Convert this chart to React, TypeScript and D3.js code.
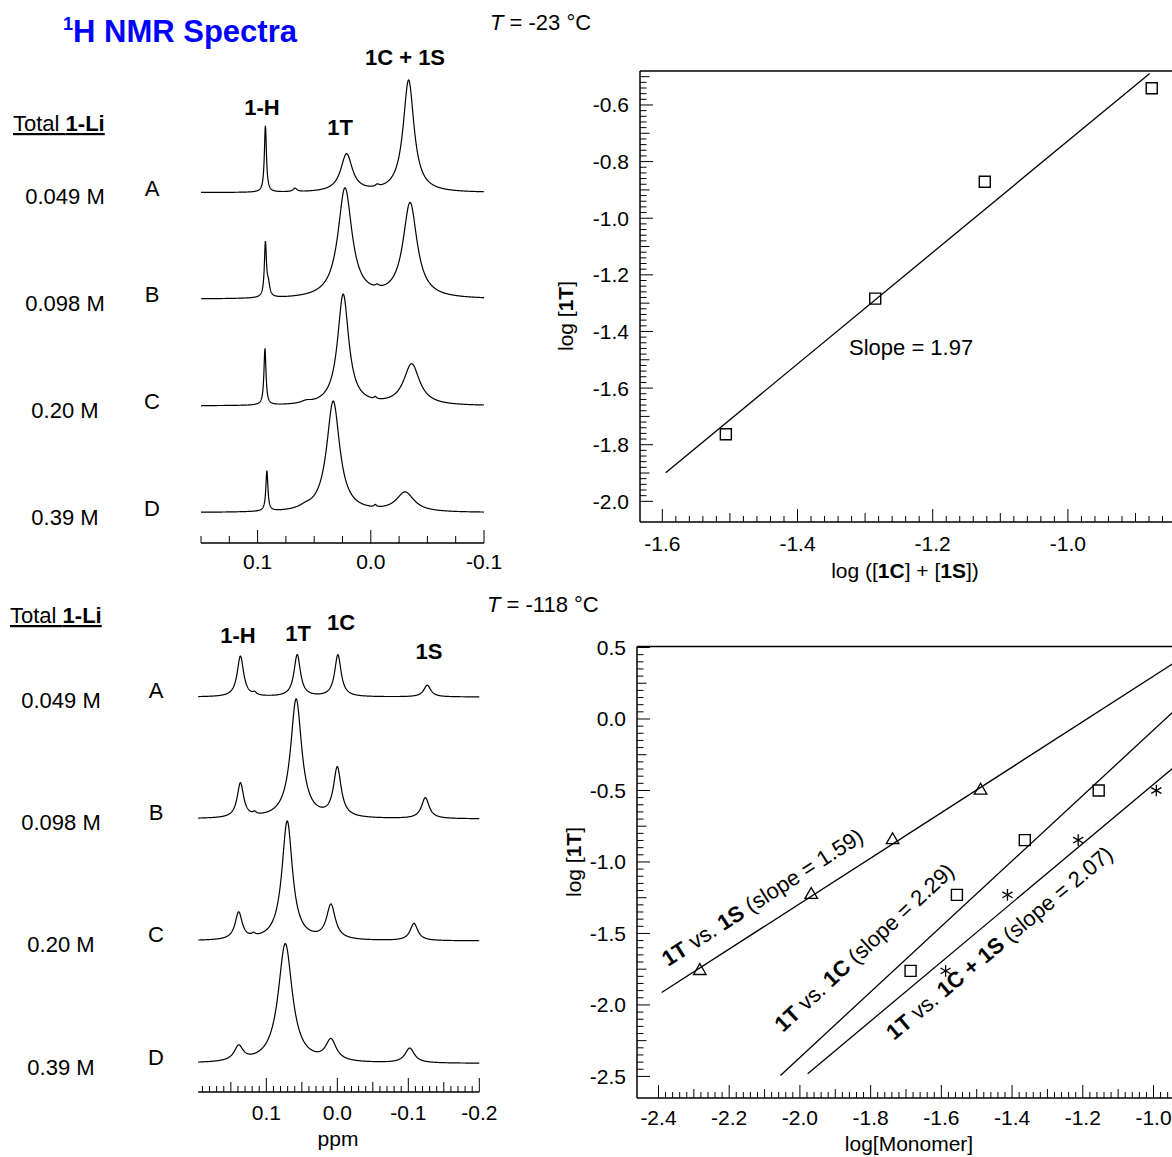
import React from 'react';
import * as d3 from 'd3';

const FONT = "'Liberation Sans', Arial, Helvetica, sans-serif";

// ---------------- Left: 1H NMR spectra ----------------
const concentrations = ['0.049 M', '0.098 M', '0.20 M', '0.39 M'];
const sampleLetters = ['A', 'B', 'C', 'D'];

// peaks: [chemical shift (ppm), height (a.u., 100 = tallest), half-width (ppm)]
const peaksWarmA = [[0.0931, 58, 0.0011], [0.067, 3, 0.002], [0.0214, 33, 0.0062], [-0.0057, 2, 0.002], [-0.0334, 98, 0.0058]];
const peaksWarmB = [[0.0931, 47, 0.0011], [0.0905, 10, 0.0015], [0.0228, 96, 0.0075], [-0.0057, 2, 0.002], [-0.0347, 83, 0.0075]];
const peaksWarmC = [[0.0935, 49, 0.0011], [0.057, 2, 0.005], [0.0244, 97, 0.006], [-0.004, 2, 0.0012], [-0.0361, 36, 0.0085]];
const peaksWarmD = [[0.0918, 35, 0.0011], [0.058, 2, 0.006], [0.0332, 97, 0.007], [-0.004, 2, 0.0012], [-0.0304, 17, 0.0095]];

const peaksColdA = [[0.1365, 33, 0.0055], [0.1165, 2, 0.003], [0.0565, 34, 0.0055], [-0.0008, 34, 0.0055], [-0.1267, 9.5, 0.006]];
const peaksColdB = [[0.1365, 28, 0.0055], [0.1165, 2, 0.003], [0.058, 97, 0.0095], [0.0, 40, 0.0065], [-0.124, 17, 0.0065]];
const peaksColdC = [[0.139, 22, 0.006], [0.118, 2, 0.003], [0.0706, 97, 0.009], [0.009, 28, 0.0075], [-0.108, 14, 0.0065]];
const peaksColdD = [[0.139, 12, 0.0075], [0.0733, 97, 0.012], [0.009, 17, 0.009], [-0.102, 12, 0.008]];

const warmPeakLabels = ['1-H', '1T', '1C + 1S'];
const coldPeakLabels = ['1-H', '1T', '1C', '1S'];

const warmTickValues = [0.1, 0.0, -0.1];
const warmTickLabels = ['0.1', '0.0', '-0.1'];
const coldTickValues = [0.1, 0.0, -0.1, -0.2];
const coldTickLabels = ['0.1', '0.0', '-0.1', '-0.2'];

// ---------------- Right top: T = -23 °C ----------------
const logMonomerWarm = [-1.506, -1.285, -1.123, -0.876];
const log1TWarm = [-1.763, -1.284, -0.871, -0.541];
const fitWarm = { slope: 1.97, intercept: 1.2432, x0: -1.595, x1: -0.879 };
const warmXTickValues = [-1.6, -1.4, -1.2, -1.0];
const warmXTickLabels = ['-1.6', '-1.4', '-1.2', '-1.0'];
const warmYTickValues = [-2.0, -1.8, -1.6, -1.4, -1.2, -1.0, -0.8, -0.6];
const warmYTickLabels = ['-2.0', '-1.8', '-1.6', '-1.4', '-1.2', '-1.0', '-0.8', '-0.6'];

// ---------------- Right bottom: T = -118 °C ----------------
const log1TCold = [-1.762, -1.23, -0.847, -0.5];
const log1S = [-2.283, -1.968, -1.738, -1.489];
const log1C = [-1.687, -1.556, -1.364, -1.155];
const log1CS = [-1.588, -1.413, -1.213, -0.992];
const fit1S = { slope: 1.59, intercept: 1.889, x0: -2.391, x1: -0.7 };
const fit1C = { slope: 2.29, intercept: 2.213, x0: -2.055, x1: -0.7 };
const fit1CS = { slope: 2.07, intercept: 1.613, x0: -1.978, x1: -0.7 };
const coldXTickValues = [-2.4, -2.2, -2.0, -1.8, -1.6, -1.4, -1.2, -1.0];
const coldXTickLabels = ['-2.4', '-2.2', '-2.0', '-1.8', '-1.6', '-1.4', '-1.2', '-1.0'];
const coldYTickValues = [-2.5, -2.0, -1.5, -1.0, -0.5, 0.0, 0.5];
const coldYTickLabels = ['-2.5', '-2.0', '-1.5', '-1.0', '-0.5', '0.0', '0.5'];

// ---------------- helpers ----------------
type Peak = number[];
function spectrumPath(peaks: Peak[], x: d3.ScaleLinear<number, number>, y: d3.ScaleLinear<number, number>) {
  const [a, b] = x.domain();
  const N = 1600;
  const pts: [number, number][] = d3.range(N + 1).map((i) => {
    const ppm = a + ((b - a) * i) / N;
    const v = d3.sum(peaks, (p) => p[1] / (1 + ((ppm - p[0]) / p[2]) ** 2));
    return [x(ppm), y(v)];
  });
  return d3.line()(pts) || '';
}

function approxKind(v: number, major: number, medium: number) {
  const r = (m: number) => Math.abs(v / m - Math.round(v / m)) < 1e-6;
  if (r(major)) return 2;
  if (medium > 0 && r(medium)) return 1;
  return 0;
}

const T = (props: any) => <text fontFamily={FONT} fill="#000" {...props} />;

export default function App() {
  // ---- left top spectra ----
  const xWarm = d3.scaleLinear().domain([0.15, -0.1]).range([201, 484]);
  const warmBase = [192.7, 299.3, 406, 512.7];
  const warmPeaks = [peaksWarmA, peaksWarmB, peaksWarmC, peaksWarmD];
  const warmAxisY = 543;
  const warmTicks = d3.range(0, 11).map((i) => 0.15 - i * 0.025);

  // ---- left bottom spectra ----
  const xCold = d3.scaleLinear().domain([0.196, -0.2]).range([198.2, 479.3]);
  const coldBase = [697, 819, 941, 1063.5];
  const coldPeaks = [peaksColdA, peaksColdB, peaksColdC, peaksColdD];
  const coldAxisY = 1092;
  const coldTicks = d3.range(0, 40).map((i) => 0.19 - i * 0.01);

  // ---- right top ----
  const xR1 = d3.scaleLinear().domain([-1.633, -0.75]).range([640, 640 + 0.883 * 676]);
  const yR1 = d3.scaleLinear().domain([-2.073, -0.48]).range([522, 71]);
  const r1XTicks = d3.range(0, 45).map((i) => -1.6 + i * 0.02);
  const r1YTicks = d3.range(0, 76).map((i) => -2.0 + i * 0.02).filter((v) => v <= -0.485);

  // ---- right bottom ----
  const xR2 = d3.scaleLinear().domain([-2.461, -0.6]).range([636.9, 636.9 + 1.861 * 353.6]);
  const yR2 = d3.scaleLinear().domain([-2.651, 0.507]).range([1098, 646.5]);
  const r2XTicks = d3.range(0, 95).map((i) => -2.4 + i * 0.02);
  const r2YTicks = d3.range(0, 61).map((i) => -2.5 + i * 0.05);

  const sq = d3.symbol().type(d3.symbolSquare).size(121)() || '';
  const tri = d3.symbol().type(d3.symbolTriangle).size(68)() || '';
  const star = d3.symbol().type(d3.symbolAsterisk).size(95)() || '';

  const fitLine = (f: any, x: any, y: any) =>
    d3.line()([[x(f.x0), y(f.slope * f.x0 + f.intercept)], [x(f.x1), y(f.slope * f.x1 + f.intercept)]]) || '';

  const pxSlope2 = (s: number) => (s * (yR2(0) - yR2(1))) / (xR2(1) - xR2(0));
  const ang = (s: number) => (-Math.atan(pxSlope2(s)) * 180) / Math.PI;

  return (
    <svg width={1172} height={1157} style={{ position: 'absolute', left: 0, top: 0, background: '#fff' }}>
      <defs>
        <clipPath id="clipR1"><rect x={640} y={71} width={600} height={451} /></clipPath>
        <clipPath id="clipR2"><rect x={637} y={646.5} width={600} height={451.5} /></clipPath>
      </defs>
      <rect x={0} y={0} width={1172} height={1157} fill="#fff" />

      {/* Title */}
      <text x={63} y={42} fontFamily={FONT} fontWeight="bold" fill="#0000FF" fontSize={31}>
        <tspan fontSize={18} dy={-12}>1</tspan>
        <tspan dy={12}>H NMR Spectra</tspan>
      </text>

      {/* ---------- Top-left spectra ---------- */}
      <T x={490} y={30} fontSize={22}>
        <tspan fontStyle="italic">T</tspan>{' = -23 °C'}
      </T>
      <T x={13} y={131} fontSize={22} textDecoration="underline">
        {'Total '}<tspan fontWeight="bold">1-Li</tspan>
      </T>
      <T x={262} y={115} fontSize={22} fontWeight="bold" textAnchor="middle">{warmPeakLabels[0]}</T>
      <T x={340} y={135} fontSize={22} fontWeight="bold" textAnchor="middle">{warmPeakLabels[1]}</T>
      <T x={405} y={65} fontSize={22} fontWeight="bold" textAnchor="middle">{warmPeakLabels[2]}</T>
      {warmPeaks.map((pk, i) => {
        const y = d3.scaleLinear().domain([0, 100]).range([warmBase[i], warmBase[i] - 114.5]);
        return (
          <g key={'w' + i}>
            <path d={spectrumPath(pk, xWarm, y)} fill="none" stroke="#000" strokeWidth={1.2} />
            <T x={152} y={warmBase[i] + 3} fontSize={22} textAnchor="middle">{sampleLetters[i]}</T>
            <T x={65} y={warmBase[i] + 11 + i * 0.5} fontSize={22} textAnchor="middle">{concentrations[i]}</T>
          </g>
        );
      })}
      <line x1={xWarm(0.15)} x2={xWarm(-0.1)} y1={warmAxisY} y2={warmAxisY} stroke="#000" strokeWidth={1.5} />
      {warmTicks.map((v, i) => {
        const k = approxKind(v, 0.1, 0);
        return <line key={'wt' + i} x1={xWarm(v)} x2={xWarm(v)} y1={warmAxisY} y2={warmAxisY - (k === 2 ? 13 : 7)} stroke="#000" strokeWidth={1} />;
      })}
      {warmTickValues.map((v, i) => (
        <T key={'wl' + i} x={xWarm(v)} y={569} fontSize={21} textAnchor="middle">{warmTickLabels[i]}</T>
      ))}

      {/* ---------- Bottom-left spectra ---------- */}
      <T x={487} y={612} fontSize={22}>
        <tspan fontStyle="italic">T</tspan>{' = -118 °C'}
      </T>
      <T x={10} y={623} fontSize={22} textDecoration="underline">
        {'Total '}<tspan fontWeight="bold">1-Li</tspan>
      </T>
      <T x={238} y={643} fontSize={22} fontWeight="bold" textAnchor="middle">{coldPeakLabels[0]}</T>
      <T x={298} y={641} fontSize={22} fontWeight="bold" textAnchor="middle">{coldPeakLabels[1]}</T>
      <T x={341} y={630} fontSize={22} fontWeight="bold" textAnchor="middle">{coldPeakLabels[2]}</T>
      <T x={429} y={659} fontSize={22} fontWeight="bold" textAnchor="middle">{coldPeakLabels[3]}</T>
      {coldPeaks.map((pk, i) => {
        const y = d3.scaleLinear().domain([0, 100]).range([coldBase[i], coldBase[i] - 123]);
        return (
          <g key={'c' + i}>
            <path d={spectrumPath(pk, xCold, y)} fill="none" stroke="#000" strokeWidth={1.2} />
            <T x={156} y={coldBase[i] + 1} fontSize={22} textAnchor="middle">{sampleLetters[i]}</T>
            <T x={61} y={coldBase[i] + 11} fontSize={22} textAnchor="middle">{concentrations[i]}</T>
          </g>
        );
      })}
      <line x1={xCold.range()[0]} x2={xCold.range()[1]} y1={coldAxisY} y2={coldAxisY} stroke="#000" strokeWidth={1.5} />
      {coldTicks.map((v, i) => {
        const k = approxKind(v, 0.1, 0.05);
        return <line key={'ct' + i} x1={xCold(v)} x2={xCold(v)} y1={coldAxisY} y2={coldAxisY - (k === 2 ? 14 : k === 1 ? 10 : 6)} stroke="#000" strokeWidth={1} />;
      })}
      {coldTickValues.map((v, i) => (
        <T key={'cl' + i} x={xCold(v)} y={1120} fontSize={21} textAnchor="middle">{coldTickLabels[i]}</T>
      ))}
      <T x={338} y={1146} fontSize={21} textAnchor="middle">ppm</T>

      {/* ---------- Top-right plot ---------- */}
      <line x1={640} x2={1172} y1={71} y2={71} stroke="#000" strokeWidth={1.5} />
      <line x1={640} x2={640} y1={71} y2={522} stroke="#000" strokeWidth={1.5} />
      <line x1={640} x2={1172} y1={522} y2={522} stroke="#000" strokeWidth={1.5} />
      {r1XTicks.map((v, i) => {
        const k = approxKind(v, 0.2, 0.1);
        return <line key={'r1x' + i} x1={xR1(v)} x2={xR1(v)} y1={522} y2={522 - (k === 2 ? 13 : k === 1 ? 9 : 6)} stroke="#000" strokeWidth={1} />;
      })}
      {r1YTicks.map((v, i) => {
        const k = approxKind(v, 0.2, 0.1);
        return <line key={'r1y' + i} x1={640} x2={640 + (k === 2 ? 13 : k === 1 ? 9.5 : 6.5)} y1={yR1(v)} y2={yR1(v)} stroke="#000" strokeWidth={1} />;
      })}
      {warmXTickValues.map((v, i) => (
        <T key={'r1xl' + i} x={xR1(v)} y={551} fontSize={21} textAnchor="middle">{warmXTickLabels[i]}</T>
      ))}
      {warmYTickValues.map((v, i) => (
        <T key={'r1yl' + i} x={629} y={yR1(v) + 7.5} fontSize={21} textAnchor="end">{warmYTickLabels[i]}</T>
      ))}
      <T x={905} y={578} fontSize={21} textAnchor="middle">
        {'log (['}<tspan fontWeight="bold">1C</tspan>{'] + ['}<tspan fontWeight="bold">1S</tspan>{'])'}
      </T>
      <T transform="translate(573,316) rotate(-90)" fontSize={21} textAnchor="middle">
        {'log ['}<tspan fontWeight="bold">1T</tspan>{']'}
      </T>
      <g clipPath="url(#clipR1)">
        <path d={fitLine(fitWarm, xR1, yR1)} stroke="#000" strokeWidth={1.3} fill="none" />
      </g>
      {logMonomerWarm.map((x, i) => (
        <path key={'r1p' + i} d={sq} transform={`translate(${xR1(x)},${yR1(log1TWarm[i])})`} fill="none" stroke="#000" strokeWidth={1.4} />
      ))}
      <T x={849} y={355} fontSize={22}>Slope = 1.97</T>

      {/* ---------- Bottom-right plot ---------- */}
      <line x1={637} x2={1172} y1={646.5} y2={646.5} stroke="#000" strokeWidth={1.5} />
      <line x1={637} x2={637} y1={646.5} y2={1098} stroke="#000" strokeWidth={1.5} />
      <line x1={637} x2={1172} y1={1098} y2={1098} stroke="#000" strokeWidth={1.5} />
      {r2XTicks.map((v, i) => {
        const k = approxKind(v, 0.2, 0.1);
        return <line key={'r2x' + i} x1={xR2(v)} x2={xR2(v)} y1={1098} y2={1098 - (k === 2 ? 13 : k === 1 ? 9 : 6)} stroke="#000" strokeWidth={1} />;
      })}
      {r2YTicks.map((v, i) => {
        const k = approxKind(v, 0.5, 0.25);
        return <line key={'r2y' + i} x1={637} x2={637 + (k === 2 ? 13 : k === 1 ? 9.5 : 6.5)} y1={yR2(v)} y2={yR2(v)} stroke="#000" strokeWidth={1} />;
      })}
      {coldXTickValues.map((v, i) => (
        <T key={'r2xl' + i} x={xR2(v)} y={1125} fontSize={21} textAnchor="middle">{coldXTickLabels[i]}</T>
      ))}
      {coldYTickValues.map((v, i) => (
        <T key={'r2yl' + i} x={626} y={yR2(v) + 7.5} fontSize={21} textAnchor="end">{coldYTickLabels[i]}</T>
      ))}
      <T x={909} y={1151} fontSize={21} textAnchor="middle">log[Monomer]</T>
      <T transform="translate(581,862) rotate(-90)" fontSize={21} textAnchor="middle">
        {'log ['}<tspan fontWeight="bold">1T</tspan>{']'}
      </T>
      <g clipPath="url(#clipR2)">
        <path d={fitLine(fit1S, xR2, yR2)} stroke="#000" strokeWidth={1.3} fill="none" />
        <path d={fitLine(fit1C, xR2, yR2)} stroke="#000" strokeWidth={1.3} fill="none" />
        <path d={fitLine(fit1CS, xR2, yR2)} stroke="#000" strokeWidth={1.3} fill="none" />
      </g>
      {log1S.map((x, i) => (
        <path key={'tr' + i} d={tri} transform={`translate(${xR2(x)},${yR2(log1TCold[i])})`} fill="none" stroke="#000" strokeWidth={1.3} />
      ))}
      {log1C.map((x, i) => (
        <path key={'sq' + i} d={sq} transform={`translate(${xR2(x)},${yR2(log1TCold[i])})`} fill="none" stroke="#000" strokeWidth={1.4} />
      ))}
      {log1CS.map((x, i) => (
        <path key={'st' + i} d={star} transform={`translate(${xR2(x)},${yR2(log1TCold[i])})`} fill="none" stroke="#000" strokeWidth={1.3} />
      ))}
      <T transform={`translate(668,967) rotate(${ang(fit1S.slope)})`} fontSize={22}>
        <tspan fontWeight="bold">1T</tspan>{' vs. '}<tspan fontWeight="bold">1S</tspan>{' (slope = 1.59)'}
      </T>
      <T transform={`translate(783,1033) rotate(${ang(fit1C.slope)})`} fontSize={22}>
        <tspan fontWeight="bold">1T</tspan>{' vs. '}<tspan fontWeight="bold">1C</tspan>{' (slope = 2.29)'}
      </T>
      <T transform={`translate(894,1041) rotate(${ang(fit1CS.slope)})`} fontSize={22}>
        <tspan fontWeight="bold">1T</tspan>{' vs. '}<tspan fontWeight="bold">1C + 1S</tspan>{' (slope = 2.07)'}
      </T>
    </svg>
  );
}
